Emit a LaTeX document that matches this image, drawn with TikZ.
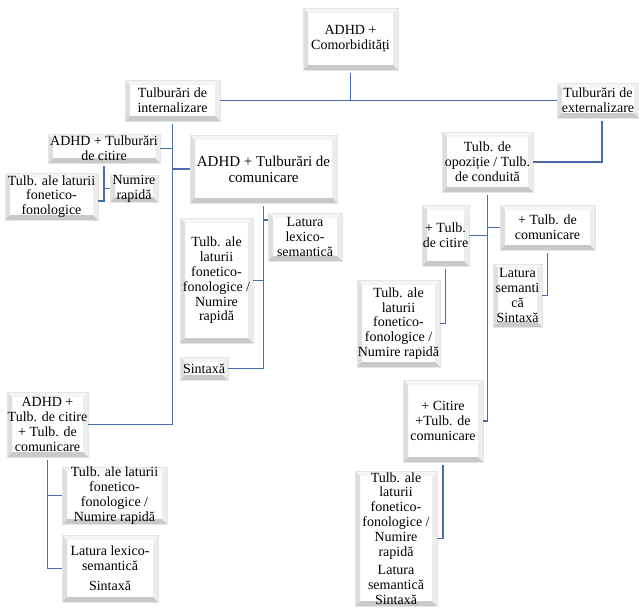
\documentclass[tikz,border=0pt]{standalone}
\usepackage{fontspec}
\setmainfont{Liberation Serif}
\definecolor{connblue}{RGB}{72,108,176}
\newcommand\boxfont{\fontsize{14}{14.8}\selectfont}
\newcommand\bigboxfont{\fontsize{15}{16}\selectfont}
\tikzset{
 box/.style={rectangle, fill=white, draw=black!10, line width=0.4pt, inner sep=0pt, align=center, font=\boxfont,
  path picture={
   \coordinate (bsw) at (path picture bounding box.south west);
   \coordinate (bne) at (path picture bounding box.north east);
   \coordinate (bse) at (path picture bounding box.south east);
   \coordinate (bnw) at (path picture bounding box.north west);
   \fill[black!4] (bnw) -- (bne) -- ([shift={(-5pt,-5pt)}]bne) -- ([shift={(5pt,-5pt)}]bnw) -- cycle;
   \fill[black!7] (bne) -- (bse) -- ([shift={(-5pt,5pt)}]bse) -- ([shift={(-5pt,-5pt)}]bne) -- cycle;
   \fill[black!13] (bnw) -- (bsw) -- ([shift={(5pt,5pt)}]bsw) -- ([shift={(5pt,-5pt)}]bnw) -- cycle;
   \fill[black!21] (bsw) -- (bse) -- ([shift={(-5pt,5pt)}]bse) -- ([shift={(5pt,5pt)}]bsw) -- cycle;
  }},
 conn/.style={draw=connblue, line width=1.2pt},
 fromtop/.style={shorten <=3pt}
}
\newcommand\bx[7][]{\node[box, minimum width=#5pt, minimum height=#6pt, #1] (#2) at (#3,#4) {#7};}
\begin{document}
\begin{tikzpicture}[x=1pt,y=-1pt]
\useasboundingbox (0,0) rectangle (639,608);
% nodes
\bx{top}{350.5}{39}{95}{62}{ADHD +\\Comorbidități}
\bx{int}{172.5}{100.5}{95}{41}{Tulburări de\\internalizare}
\bx{ext}{598}{100.5}{82}{35}{Tulburări de\\externalizare}
\bx{b4}{104}{148.5}{112}{29}{ADHD + Tulburări\\de citire}
\bx{b5}{51.5}{196.5}{93}{47}{Tulb. ale laturii\\fonetico-\\fonologice}
\bx{b6}{134}{188.5}{48}{27}{Numire\\rapidă}
\bx[font=\bigboxfont]{b7}{263.5}{169}{147}{68}{ADHD + Tulburări de\\comunicare}
\bx{b8}{305}{237}{74}{48}{Latura\\lexico-\\semantică}
\bx{b9}{216.5}{280.5}{73}{125}{Tulb. ale\\laturii\\fonetico-\\fonologice /\\Numire\\rapidă}
\bx{b10}{204}{368.5}{48}{23}{Sintaxă}
\bx{b11}{47.5}{424.5}{81}{65}{ADHD +\\Tulb. de citire\\+ Tulb. de\\comunicare}
\bx{b12}{114.5}{495.5}{105}{55}{Tulb. ale laturii\\fonetico-\\fonologice /\\Numire rapidă}
\bx{b13}{110}{568.5}{96}{67}{Latura lexico-\\semantică\\[5pt]Sintaxă}
\bx{b14}{487.5}{162}{91}{60}{Tulb. de\\opoziție / Tulb.\\de conduită}
\bx{b15}{445.5}{235.5}{47}{61}{+ Tulb.\\de citire}
\bx{b16}{547.5}{227.5}{95}{45}{+ Tulb. de\\comunicare}
\bx{b17}{398.5}{323.5}{83}{87}{Tulb. ale\\laturii\\fonetico-\\fonologice /\\Numire rapidă}
\bx{b18}{517.5}{295.5}{49}{63}{Latura\\semanti\\că\\Sintaxă}
\bx{b19}{443}{421}{80}{82}{+ Citire\\+Tulb. de\\comunicare}
\bx{b20}{396}{538.5}{82}{135}{Tulb. ale\\laturii\\fonetico-\\fonologice /\\Numire\\rapidă\\[4pt]Latura\\semantică\\Sintaxă}
% junctions
\coordinate (j5) at (104,201);
\coordinate (j8) at (263.5,220);
% connectors
\draw[conn, fromtop] (top.south) -- (top.south |- int.east);
\draw[conn] (int.east) -- (ext.west);
\draw[conn, fromtop] ([xshift=4pt]ext.south) |- (b14.east);
\draw[conn, fromtop] (int.south) -- (int.south |- b11.east) -- (b11.east);
\draw[conn] (b4.east) -- (b4.east -| int.south);
\draw[conn] (b7.west) -- (b7.west -| int.south);
\draw[conn, fromtop] (b4.south) -- (j5) -- (j5 -| b5.east);
\draw[conn] (b6.west) -- (b6.west -| b4.south);
\draw[conn, fromtop] (b7.south) -- (b7.south |- b10.east) -- (b10.east);
\draw[conn] (j8) -- (j8 -| b8.west);
\draw[conn] (b9.east) -- (b9.east -| b7.south);
\draw[conn, fromtop] (b11.south) |- (b13.west);
\draw[conn] (b12.west) -- (b12.west -| b11.south);
\draw[conn, fromtop] (b14.south) |- (b19.east);
\draw[conn] (b15.east) -- (b15.east -| b14.south);
\draw[conn] (b16.west) -- (b16.west -| b14.south);
\draw[conn, fromtop] (b15.south) |- (b17.east);
\draw[conn, fromtop] (b16.south) |- (b18.east);
\draw[conn, fromtop] (b19.south) |- (b20.east);
\end{tikzpicture}
\end{document}
